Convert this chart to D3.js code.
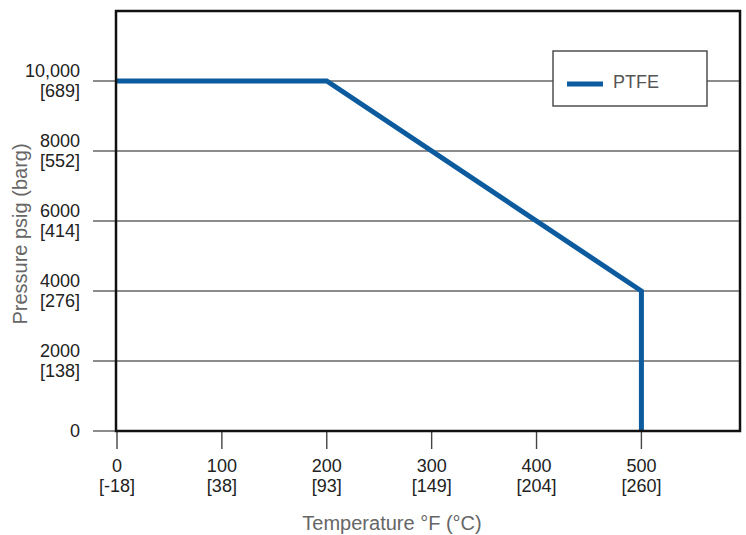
<!DOCTYPE html>
<meta charset="utf-8">
<title>PTFE pressure / temperature</title>
<style>
    body { margin: 0; background: #fff; }
    text { font-family: "Liberation Sans", Arial, sans-serif; }
    .tick text { font-size: 18px; fill: #222; }
    .title { font-size: 20px; fill: #666; }
</style>
<svg width="746" height="535"></svg>
<script src="https://cdn.jsdelivr.net/npm/d3@7"></script>
<script>

    // rating curve for PTFE
    var tempF = [0, 200, 500, 500];
    var pressure = [10000, 10000, 4000, 0];

    // tick labels
    var xTicks = [0, 100, 200, 300, 400, 500];
    var xTicksC = ["[-18]", "[38]", "[93]", "[149]", "[204]", "[260]"];
    var yTicks = [0, 2000, 4000, 6000, 8000, 10000];
    var yTicksBar = ["", "[138]", "[276]", "[414]", "[552]", "[689]"];
    var seriesName = "PTFE";

    var svg = d3.select("svg"),
        blue = "#0b5b9e";

    var x = d3.scaleLinear().domain([0, 594]).range([117, 740]);
    var y = d3.scaleLinear().domain([0, 12000]).range([431, 11]);

    var x0 = x(0) - 1, x1 = x.range()[1], y0 = y(0), y1 = y.range()[1];

    // horizontal grid + y ticks sticking out to the left
    svg.append("g").selectAll("line")
        .data(yTicks)
        .enter().append("line")
            .attr("x1", x0 - 23).attr("x2", x1)
            .attr("y1", function(d) { return y(d); })
            .attr("y2", function(d) { return y(d); })
            .attr("stroke", "#666")
            .attr("stroke-width", 1.4);

    // y tick labels (psig on top, barg below)
    var yl = svg.append("g").selectAll("g")
        .data(yTicks)
        .enter().append("g")
            .attr("class", "tick")
            .attr("transform", function(d) { return "translate(80," + y(d) + ")"; });

    yl.append("text")
        .attr("text-anchor", "end")
        .attr("y", function(d, i) { return i === 0 ? 6 : -4; })
        .text(function(d) { return d >= 10000 ? d3.format(",")(d) : d; });

    yl.append("text")
        .attr("text-anchor", "end")
        .attr("y", 16)
        .text(function(d, i) { return yTicksBar[i]; });

    // x ticks below the frame
    var xl = svg.append("g").selectAll("g")
        .data(xTicks)
        .enter().append("g")
            .attr("class", "tick")
            .attr("transform", function(d) { return "translate(" + x(d) + "," + y0 + ")"; });

    xl.append("line")
        .attr("y1", 0).attr("y2", 18)
        .attr("stroke", "#444")
        .attr("stroke-width", 1.4);

    xl.append("text")
        .attr("text-anchor", "middle")
        .attr("y", 41)
        .text(function(d) { return d; });

    xl.append("text")
        .attr("text-anchor", "middle")
        .attr("y", 61)
        .text(function(d, i) { return xTicksC[i]; });

    // legend
    var lg = svg.append("g");
    lg.append("rect")
        .attr("x", 553).attr("y", 51)
        .attr("width", 154).attr("height", 55)
        .attr("fill", "#fff")
        .attr("stroke", "#444")
        .attr("stroke-width", 1.4);
    lg.append("line")
        .attr("x1", 567).attr("x2", 603)
        .attr("y1", 84).attr("y2", 84)
        .attr("stroke", blue)
        .attr("stroke-width", 5);
    lg.append("text")
        .attr("x", 613).attr("y", 88)
        .attr("font-size", 18)
        .attr("fill", "#555")
        .text(seriesName);

    // the curve
    var line = d3.line()
        .x(function(d, i) { return x(tempF[i]); })
        .y(function(d) { return y(d); });

    svg.append("path")
        .datum(pressure)
        .attr("d", line)
        .attr("fill", "none")
        .attr("stroke", blue)
        .attr("stroke-width", 5)
        .attr("stroke-linejoin", "miter");

    // plot frame
    svg.append("rect")
        .attr("x", x0).attr("y", y1)
        .attr("width", x1 - x0).attr("height", y0 - y1)
        .attr("fill", "none")
        .attr("stroke", "#111")
        .attr("stroke-width", 2.5);

    // axis titles
    svg.append("text")
        .attr("class", "title")
        .attr("text-anchor", "middle")
        .attr("x", 392).attr("y", 530)
        .text("Temperature °F (°C)");

    svg.append("text")
        .attr("class", "title")
        .attr("text-anchor", "middle")
        .attr("transform", "translate(27,234) rotate(-90)")
        .text("Pressure psig (barg)");

</script>
